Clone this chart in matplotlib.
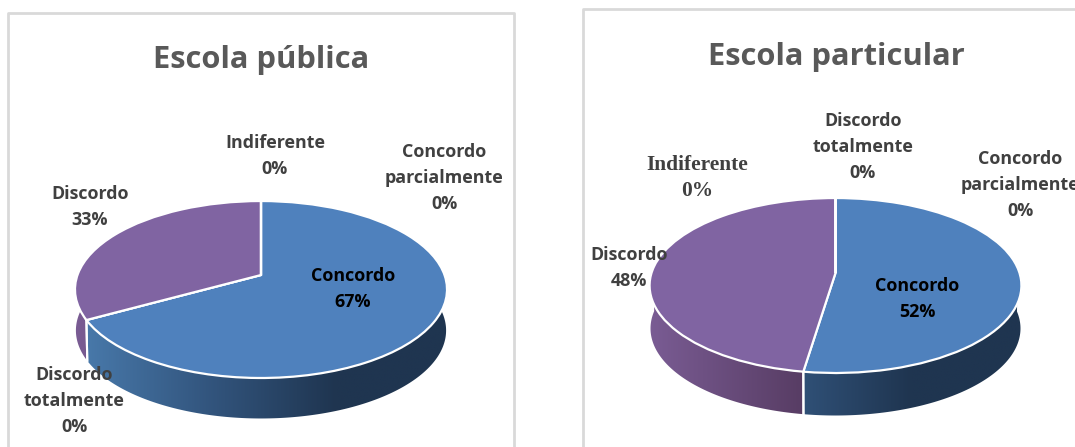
import numpy as np
import matplotlib
matplotlib.use("Agg")
import matplotlib.pyplot as plt
from matplotlib.colors import LinearSegmentedColormap
from matplotlib.patches import Polygon
from matplotlib.transforms import Transform

plt.rcParams['font.family'] = ['Open Sans', 'DejaVu Sans']

# data
titles = ["Escola pública", "Escola particular"]
cats_publica = ["Concordo", "Discordo\ntotalmente", "Discordo", "Indiferente", "Concordo\nparcialmente"]
vals_publica = [67, 0, 33, 0, 0]
cats_particular = ["Concordo", "Discordo", "Indiferente", "Discordo\ntotalmente", "Concordo\nparcialmente"]
vals_particular = [52.4, 47.6, 0, 0, 0]
colors = {"Concordo": "#4F81BD", "Discordo": "#8064A2", "Indiferente": "#9BBB59",
          "Discordo\ntotalmente": "#C0504D", "Concordo\nparcialmente": "#4BACC6"}

blue_side = LinearSegmentedColormap.from_list("b", [(0, "#4a7cae"), (0.35, "#33567f"), (0.7, "#1f3550"), (1, "#1f3550")])
purple_side = LinearSegmentedColormap.from_list("p", [(0, "#7a5c94"), (0.42, "#573c63"), (1, "#573c63")])
side_maps = {"Concordo": blue_side, "Discordo": purple_side}


class Tilt(Transform):
    # turns the flat unit pie into a seen-from-above disc, in pixels
    input_dims = output_dims = 2
    is_separable = False
    has_inverse = False

    def __init__(self, cx, cy, a, b, k, scale=1.0, drop=0):
        super().__init__()
        self.p = (cx, cy, a, b, k, scale, drop)

    def transform_non_affine(self, xy):
        cx, cy, a, b, k, scale, drop = self.p
        xy = np.asarray(xy)
        w = 1 + k * xy[:, 1]
        return np.column_stack((cx + scale * a * xy[:, 0] / w, cy + drop - scale * b * xy[:, 1] / w))


fig = plt.figure(figsize=(10.75, 4.47), dpi=100)
ax = fig.add_axes([0, 0, 1, 1])


def draw_pie(cats, vals, cx, cy, a, b, k, depth):
    wedges, _ = ax.pie(vals, startangle=90, counterclock=False, radius=1,
                       colors=[colors[c] for c in cats],
                       wedgeprops=dict(edgecolor="white", linewidth=1.6, zorder=5))
    top = Tilt(cx, cy, a, b, k)
    low = Tilt(cx, cy, a, b, k, scale=0.995, drop=depth)
    left, right = cx - a * 1.02, cx + a * 1.02
    for w, c, v in zip(wedges, cats, vals):
        w.set_transform(top + ax.transData)
        if v == 0:
            continue
        th = np.linspace(w.theta1, w.theta2, 400)
        rad = np.radians(th)
        keep = np.sin(rad) < 0.06
        rim = np.column_stack((np.cos(rad[keep]), np.sin(rad[keep])))
        up = top.transform(rim)
        down = low.transform(rim)
        poly = Polygon(np.vstack((up, down[::-1])), closed=True, transform=ax.transData,
                       facecolor="none", edgecolor="none")
        ax.add_patch(poly)
        im = ax.imshow(np.linspace(0, 1, 256).reshape(1, -1), cmap=side_maps[c], vmin=0, vmax=1,
                       extent=(left, right, cy + b + depth + 20, cy - b), aspect="auto",
                       interpolation="bilinear", zorder=2)
        im.set_clip_path(poly)
        # white seam where two slices meet on the front
        for i in (0, -1):
            if rim[i, 1] < 0:
                ax.plot([up[i, 0], down[i, 0]], [up[i, 1], down[i, 1]], color="white", lw=1.5, zorder=3)


draw_pie(cats_publica, vals_publica, 261, 275, 183.5, 86.1, 0.164, 41)
draw_pie(cats_particular, vals_particular, 835.5, 273, 184, 85.7, 0.143, 43)

ax.set_aspect("auto")
ax.set_xlim(0, 1075)
ax.set_ylim(447, 0)
ax.axis("off")

# chart frames
frame = "#d9d9d9"
ax.plot([8, 8, 514, 514], [447, 13, 13, 447], color=frame, lw=2, zorder=1)
ax.plot([583, 583, 1075], [447, 9, 9], color=frame, lw=2, zorder=1)

title_kw = dict(ha="center", va="center", fontsize=22.2, fontweight="bold", color="#595959", zorder=8)
ax.text(261, 60, titles[0], **title_kw)
ax.text(836, 57, titles[1], **title_kw)


def label(cats, vals, name, x, y, color="#404040", size=12.9, spacing=1.6, **kw):
    v = vals[cats.index(name)]
    ax.text(x, y, f"{name}\n{v:.0f}%", ha="center", va="center", fontsize=size, fontweight="bold",
            color=color, linespacing=spacing, zorder=8, clip_on=True, **kw)


label(cats_publica, vals_publica, "Indiferente", 275, 156)
label(cats_publica, vals_publica, "Concordo\nparcialmente", 444, 178)
label(cats_publica, vals_publica, "Discordo", 90, 207)
label(cats_publica, vals_publica, "Discordo\ntotalmente", 74, 401)
label(cats_publica, vals_publica, "Concordo", 353, 289, color="black")

label(cats_particular, vals_particular, "Discordo\ntotalmente", 863, 147)
label(cats_particular, vals_particular, "Indiferente", 697, 178, size=15.4, spacing=1.42, family=["Liberation Serif"])
label(cats_particular, vals_particular, "Concordo\nparcialmente", 1020, 185)
label(cats_particular, vals_particular, "Discordo", 629, 268)
label(cats_particular, vals_particular, "Concordo", 917, 299, color="black")

fig.savefig("out.png", dpi=100)
